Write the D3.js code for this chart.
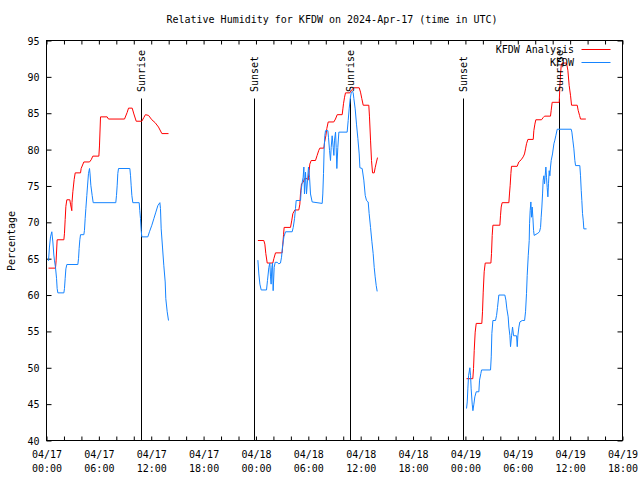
<!DOCTYPE html>
<html><head><meta charset="utf-8">
<script src="https://cdn.jsdelivr.net/npm/d3@7"></script>
<style>
html,body{margin:0;padding:0;background:#fff;}
svg{display:block;}
text{font-family:"DejaVu Sans Mono","Liberation Mono",monospace;font-size:10px;fill:#000;}
</style></head>
<body>
<script>
// ---- data (hours since 2024-04-17 00:00 UTC, relative humidity %) ----
const title = "Relative Humidity for KFDW on 2024-Apr-17 (time in UTC)";
const yLabel = "Percentage";
const seriesNames = ["KFDW Analysis", "KFDW"];
const yTicks = [40,45,50,55,60,65,70,75,80,85,90,95];
const sunEvents = ["Sunrise","Sunset","Sunrise","Sunset","Sunrise"];
const sunHours = [10.92, 23.87, 34.83, 47.82, 58.82];

const analysisDay1 = [[0.23,63.7],[1.03,63.7],[1.1,64.7],[1.22,67.6],[1.99,67.6],[2.06,68.5],[2.14,70.4],[2.22,72.2],[2.33,73.1],[2.67,73.1],[2.75,72.5],[2.9,71.6],[2.92,72.7],[3.02,74.2],[3.17,75.9],[3.29,76.8],[3.9,76.8],[3.97,77.4],[4.28,78.3],[4.93,78.3],[5.12,78.6],[5.31,79.1],[6.0,79.1],[6.07,80.5],[6.19,84.5],[6.95,84.5],[7.1,84.2],[8.94,84.2],[9.24,85.1],[9.4,85.7],[9.82,85.7],[10.01,84.9],[10.28,83.9],[10.92,83.9],[11.15,84.4],[11.34,84.8],[11.69,84.7],[12.07,84.1],[12.45,83.7],[12.83,83.1],[13.22,82.2],[13.98,82.2]];
const analysisDay2 = [[24.22,67.5],[24.9,67.5],[25.02,67.0],[25.13,65.7],[25.29,64.4],[25.93,64.4],[26.05,65.0],[26.24,65.8],[27.0,65.8],[27.08,67.0],[27.16,68.3],[27.23,69.3],[27.96,69.3],[28.11,70.3],[28.23,71.2],[28.46,71.7],[28.91,71.7],[29.03,72.5],[29.1,73.9],[29.22,75.3],[29.41,75.5],[29.56,76.0],[29.87,76.0],[29.98,75.8],[30.1,77.1],[30.17,78.0],[30.33,78.5],[30.82,78.5],[31.01,79.2],[31.2,79.9],[31.32,80.2],[31.78,80.2],[31.86,81.0],[32.01,81.9],[32.12,82.9],[32.28,83.8],[32.92,83.8],[33.11,84.2],[33.31,84.8],[33.88,84.8],[33.96,85.6],[34.03,86.3],[34.15,87.2],[34.26,87.8],[34.76,87.8],[34.95,88.2],[35.22,88.5],[35.83,88.5],[35.98,87.9],[36.13,87.0],[36.29,86.1],[36.93,86.1],[37.01,84.5],[37.13,81.3],[37.24,78.5],[37.36,76.8],[37.55,76.8],[37.66,77.5],[37.81,78.3],[37.93,78.9]];
const analysisDay3 = [[48.13,48.5],[48.85,48.5],[48.93,49.9],[49.01,52.4],[49.12,54.9],[49.24,56.1],[49.88,56.1],[49.96,57.7],[50.04,60.4],[50.15,63.2],[50.27,64.4],[50.92,64.4],[50.99,65.7],[51.07,68.2],[51.15,69.6],[51.95,69.6],[52.02,70.9],[52.1,72.1],[52.21,72.7],[52.98,72.7],[53.05,73.9],[53.13,75.1],[53.21,76.7],[53.28,77.7],[53.93,77.7],[54.12,78.3],[54.39,78.6],[54.62,79.0],[54.77,79.4],[54.89,80.1],[55.0,80.8],[55.16,81.4],[55.77,81.4],[55.84,82.6],[55.96,83.5],[56.07,84.1],[56.72,84.1],[56.91,84.4],[57.07,84.6],[57.75,84.6],[57.83,85.4],[57.94,86.5],[58.75,86.5],[58.82,88.6],[58.9,90.4],[58.98,91.6],[59.09,91.9],[59.59,91.9],[59.74,90.9],[59.89,88.8],[60.05,87.4],[60.16,86.1],[60.81,86.1],[60.92,85.4],[61.08,84.7],[61.19,84.2],[61.8,84.2]];

const obsDay1 = [[0.23,64.7],[0.34,66.6],[0.46,68.0],[0.61,68.7],[0.73,67.3],[0.84,65.5],[0.92,64.7],[1.03,63.8],[1.15,62.3],[1.22,60.9],[1.3,60.3],[1.99,60.3],[2.06,60.9],[2.14,62.3],[2.22,63.6],[2.33,64.2],[3.59,64.2],[3.67,65.0],[3.74,66.4],[3.82,67.6],[3.9,68.3],[4.28,68.3],[4.35,68.9],[4.43,70.5],[4.51,71.9],[4.62,73.7],[4.7,75.0],[4.81,76.7],[4.93,77.4],[5.0,76.5],[5.08,75.1],[5.23,73.7],[5.35,72.7],[7.94,72.7],[8.02,73.7],[8.1,75.1],[8.17,76.7],[8.25,77.4],[9.55,77.4],[9.63,76.4],[9.7,75.1],[9.78,73.7],[9.89,72.7],[10.62,72.7],[10.69,71.6],[10.77,70.5],[10.85,68.9],[10.92,68.0],[11.61,68.0],[11.8,68.7],[12.07,69.6],[12.3,70.5],[12.53,71.4],[12.76,72.3],[12.99,72.7],[13.06,71.9],[13.14,69.1],[13.29,66.6],[13.44,64.1],[13.6,61.8],[13.67,59.5],[13.83,57.7],[13.98,56.5]];
const obsDay2 = [[24.22,64.8],[24.33,62.9],[24.45,61.5],[24.6,60.7],[25.21,60.7],[25.32,62.0],[25.48,63.8],[25.59,64.4],[25.67,62.5],[25.74,61.5],[25.82,63.8],[25.9,64.4],[25.97,60.6],[26.09,63.8],[26.2,64.5],[26.43,64.5],[26.62,64.3],[26.81,64.4],[26.93,65.2],[27.04,66.6],[27.2,68.0],[27.39,68.7],[28.15,68.7],[28.27,69.3],[28.42,70.5],[28.53,71.9],[28.61,73.0],[29.11,73.0],[29.18,74.4],[29.3,75.5],[29.41,76.2],[29.49,77.6],[29.56,73.9],[29.68,76.9],[29.79,73.9],[29.91,75.8],[30.02,77.6],[30.14,76.2],[30.25,73.9],[30.44,72.8],[31.59,72.6],[31.66,73.9],[31.74,76.7],[31.82,80.3],[31.89,81.9],[31.97,82.6],[32.24,82.6],[32.31,81.7],[32.43,79.9],[32.54,78.5],[32.62,80.3],[32.73,81.9],[32.85,80.3],[32.93,79.2],[33.0,81.3],[33.12,82.4],[33.19,80.3],[33.27,77.4],[33.38,80.3],[33.5,82.4],[34.45,82.4],[34.57,84.0],[34.68,85.6],[34.8,87.0],[34.91,87.8],[35.03,88.0],[35.14,87.8],[35.22,87.0],[35.37,85.6],[35.52,83.5],[35.68,81.5],[35.83,79.4],[35.91,77.5],[36.17,77.4],[36.36,75.8],[36.52,73.7],[36.67,73.0],[36.86,72.8],[36.97,71.2],[37.13,69.3],[37.28,67.4],[37.43,65.7],[37.55,63.8],[37.66,62.5],[37.78,61.3],[37.89,60.5]];
const obsDay3 = [[48.13,44.4],[48.21,45.3],[48.28,47.1],[48.36,48.9],[48.51,50.0],[48.59,48.9],[48.66,47.1],[48.78,45.0],[48.86,44.1],[48.97,45.0],[49.08,46.0],[49.24,46.7],[49.54,46.7],[49.62,48.3],[49.77,49.2],[49.85,49.7],[50.88,49.7],[50.96,51.5],[51.03,54.7],[51.15,56.5],[51.45,56.5],[51.57,57.2],[51.68,58.3],[51.83,60.0],[52.52,60.0],[52.64,59.3],[52.75,58.1],[52.9,57.0],[52.98,55.6],[53.1,54.4],[53.17,52.9],[53.29,54.4],[53.4,55.6],[53.52,54.4],[53.86,54.4],[53.94,52.9],[54.01,54.4],[54.13,55.6],[54.24,56.3],[54.51,56.5],[54.78,56.5],[54.89,57.7],[55.0,60.2],[55.08,62.7],[55.2,65.4],[55.31,67.5],[55.35,69.8],[55.42,71.6],[55.5,72.8],[55.58,70.7],[55.65,72.1],[55.73,70.7],[55.81,68.9],[55.88,68.2],[56.3,68.5],[56.49,68.7],[56.61,69.3],[56.68,70.7],[56.76,72.1],[56.84,73.9],[56.91,75.8],[56.99,76.4],[57.07,75.3],[57.14,76.4],[57.22,77.6],[57.29,76.2],[57.37,74.8],[57.45,73.5],[57.52,75.3],[57.6,77.1],[57.68,76.4],[57.75,77.6],[57.83,78.5],[57.98,79.4],[58.14,80.8],[58.25,81.3],[58.36,81.9],[58.52,82.8],[60.12,82.8],[60.2,82.4],[60.31,81.3],[60.43,80.1],[60.54,78.5],[60.62,77.8],[61.11,77.8],[61.19,76.4],[61.27,74.4],[61.34,73.0],[61.42,71.2],[61.5,70.3],[61.57,69.1],[61.88,69.1]];

// ---- chart ----
const W = 640, H = 480;
const m = {left:46, right:622, top:40, bottom:440};
const T0 = Date.UTC(2024,3,17,0,0);
const hr = h => new Date(T0 + h*3600e3);

const svg = d3.select("body").append("svg").attr("width",W).attr("height",H);
const g = svg.append("g").attr("transform","translate(0.5,0.5)");

const x = d3.scaleUtc().domain([hr(0), hr(66)]).range([m.left, m.right]);
const y = d3.scaleLinear().domain([40,95]).range([m.bottom, m.top]);

// frame
g.append("rect").attr("x",m.left).attr("y",m.top)
  .attr("width",m.right-m.left).attr("height",m.bottom-m.top)
  .attr("fill","none").attr("stroke","#000").attr("stroke-width",1);

const tick2h = d3.utcHour.every(2);
const fmtDate = d3.utcFormat("%m/%d"), fmtTime = d3.utcFormat("%H:%M");

// bottom ticks (every 2h, inward)
g.append("g").attr("transform",`translate(0,${m.bottom})`)
  .call(d3.axisBottom(x).ticks(tick2h).tickSizeInner(-4).tickSizeOuter(0).tickFormat(""))
  .call(a=>a.select(".domain").remove());
// top mirror ticks
g.append("g").attr("transform",`translate(0,${m.top})`)
  .call(d3.axisTop(x).ticks(tick2h).tickSizeInner(-4).tickSizeOuter(0).tickFormat(""))
  .call(a=>a.select(".domain").remove());
// bottom labels every 6h, two lines
const xl = g.append("g").attr("transform",`translate(0,${m.bottom})`)
  .call(d3.axisBottom(x).ticks(d3.utcHour.every(6)).tickSize(0).tickFormat(""));
xl.select(".domain").remove();
xl.selectAll(".tick line").remove();
xl.selectAll(".tick text").attr("y",0).attr("dy",null).each(function(d){
  const t = d3.select(this);
  t.append("tspan").attr("x",0).attr("y",17).text(fmtDate(d));
  t.append("tspan").attr("x",0).attr("y",31).text(fmtTime(d));
});
xl.selectAll("text").attr("font-family",null).attr("font-size",null);

// left y axis
const yl = g.append("g").attr("transform",`translate(${m.left},0)`)
  .call(d3.axisLeft(y).tickValues(yTicks).tickSizeInner(-5).tickSizeOuter(0).tickPadding(7).tickFormat(d3.format("d")));
yl.select(".domain").remove();
yl.selectAll("text").attr("font-family",null).attr("font-size",null).attr("dy","0.35em");
// right mirror ticks
g.append("g").attr("transform",`translate(${m.right},0)`)
  .call(d3.axisRight(y).tickValues(yTicks).tickSizeInner(-5).tickSizeOuter(0).tickFormat(""))
  .call(a=>a.select(".domain").remove());

g.selectAll(".tick line").attr("stroke","#000");

// sunrise / sunset markers
sunHours.forEach((h,i)=>{
  const sx = Math.round(x(hr(h)));
  g.append("line").attr("x1",sx).attr("x2",sx).attr("y1",98).attr("y2",m.bottom)
    .attr("stroke","#000").attr("stroke-width",1);
  svg.append("text").attr("transform",`translate(${sx+4},92) rotate(-90)`)
    .attr("text-anchor","start").text(sunEvents[i]);
});

// series
const line = d3.line().x(d=>x(hr(d[0]))).y(d=>y(d[1]));
const red = "#ff0000", blue = "#1584ff";
[analysisDay1, analysisDay2, analysisDay3].forEach(s=>{
  g.append("path").datum(s).attr("d",line).attr("fill","none").attr("stroke",red).attr("stroke-width",1);
});
[obsDay1, obsDay2, obsDay3].forEach(s=>{
  g.append("path").datum(s).attr("d",line).attr("fill","none").attr("stroke",blue).attr("stroke-width",1);
});

// title
svg.append("text").attr("x",(m.left+m.right)/2 - 2).attr("y",23).attr("text-anchor","middle").text(title);
// y label
svg.append("text").attr("transform",`translate(15,241) rotate(-90)`).attr("text-anchor","middle").text(yLabel);

// legend
const legColors = [red, blue];
seriesNames.forEach((n,i)=>{
  const ly = 49 + i*13;
  svg.append("text").attr("x",574).attr("y",ly+4).attr("text-anchor","end").text(n);
  g.append("line").attr("x1",581).attr("x2",610).attr("y1",ly).attr("y2",ly)
    .attr("stroke",legColors[i]).attr("stroke-width",1);
});
</script>
</body></html>
